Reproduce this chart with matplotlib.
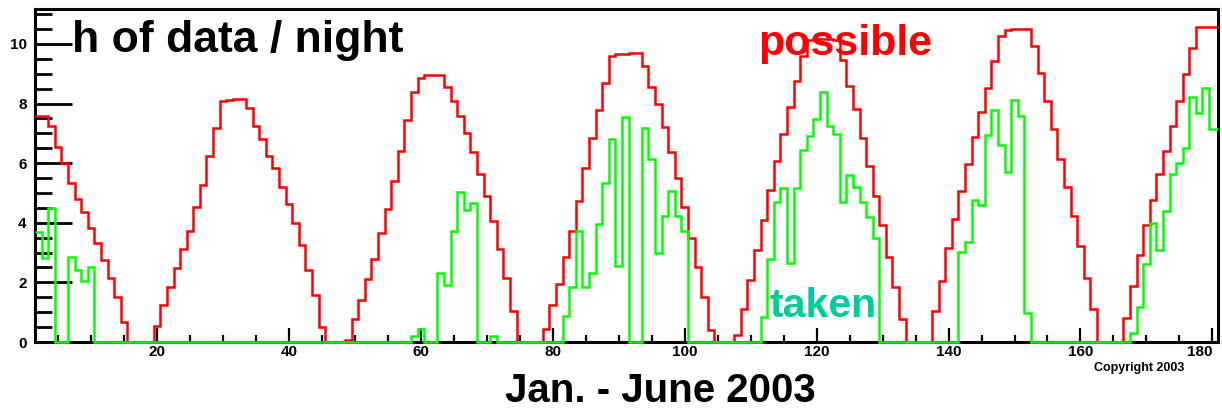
import numpy as np
import matplotlib.pyplot as plt
from matplotlib.ticker import MultipleLocator

# one bin per night, day of year 2003
days = np.arange(2, 182)

# hours of dark time available per night
possible = [
    7.58, 7.58, 7.25, 6.53, 6.02, 5.35, 4.81, 4.37, 3.82, 3.31,    # 2-11
    2.75, 2.14, 1.52, 0.68, 0.00, 0.00, 0.00, 0.00, 0.54, 1.24,    # 12-21
    1.86, 2.49, 3.12, 3.74, 4.54, 5.27, 6.24, 7.19, 8.09, 8.12,    # 22-31
    8.14, 8.14, 7.86, 7.23, 6.80, 6.24, 5.83, 5.21, 4.63, 4.00,    # 32-41
    3.26, 2.42, 1.58, 0.51, 0.00, 0.00, 0.00, 0.08, 0.78, 1.41,    # 42-51
    2.13, 2.77, 3.65, 4.45, 5.41, 6.42, 7.45, 8.40, 8.87, 8.94,    # 52-61
    8.94, 8.94, 8.57, 8.10, 7.58, 7.00, 6.39, 5.64, 4.90, 4.07,    # 62-71
    3.11, 2.14, 1.04, 0.00, 0.00, 0.00, 0.00, 0.45, 1.23, 1.95,    # 72-81
    2.84, 3.74, 4.74, 5.83, 6.83, 7.79, 8.68, 9.58, 9.66, 9.66,    # 82-91
    9.68, 9.68, 9.26, 8.57, 7.99, 7.20, 6.39, 5.49, 4.54, 3.50,    # 92-101
    2.51, 1.52, 0.40, 0.00, 0.00, 0.00, 0.25, 1.12, 2.08, 3.10,    # 102-111
    4.09, 5.09, 6.06, 6.97, 7.87, 8.76, 9.58, 10.13, 10.17, 10.17, # 112-121
    10.17, 10.13, 9.46, 8.59, 7.80, 6.83, 5.89, 4.90, 3.93, 2.84,  # 122-131
    1.86, 0.78, 0.00, 0.00, 0.00, 0.00, 1.05, 2.05, 3.14, 4.13,    # 132-141
    5.08, 5.97, 6.89, 7.70, 8.51, 9.41, 10.28, 10.45, 10.49, 10.49,  # 142-151
    10.49, 9.93, 9.02, 8.10, 7.16, 6.13, 5.20, 4.21, 3.22, 2.16,   # 152-161
    1.10, 0.00, 0.00, 0.00, 0.00, 0.79, 1.88, 2.92, 3.93, 4.77,    # 162-171
    5.64, 6.42, 7.25, 8.10, 8.99, 9.85, 10.55, 10.55, 10.55, 10.55,  # 172-181
]

# hours of data actually taken per night
taken = [
    3.70, 2.81, 4.49, 0.00, 0.00, 2.86, 2.40, 2.06, 2.51, 0.00,    # 2-11
    0.00, 0.00, 0.00, 0.00, 0.00, 0.00, 0.00, 0.00, 0.00, 0.00,    # 12-21
    0.00, 0.00, 0.00, 0.00, 0.00, 0.00, 0.00, 0.00, 0.00, 0.00,    # 22-31
    0.00, 0.00, 0.00, 0.00, 0.00, 0.00, 0.00, 0.00, 0.00, 0.00,    # 32-41
    0.00, 0.00, 0.00, 0.00, 0.00, 0.00, 0.00, 0.00, 0.00, 0.00,    # 42-51
    0.00, 0.00, 0.00, 0.00, 0.00, 0.00, 0.00, 0.20, 0.45, 0.00,    # 52-61
    0.00, 2.33, 1.91, 3.74, 5.02, 4.43, 4.65, 0.00, 0.00, 0.20,    # 62-71
    0.00, 0.00, 0.00, 0.00, 0.00, 0.00, 0.00, 0.00, 0.00, 0.00,    # 72-81
    0.87, 1.86, 3.74, 1.86, 2.33, 3.96, 5.35, 6.80, 2.55, 7.54,    # 82-91
    0.00, 0.00, 7.17, 6.13, 3.00, 4.21, 5.08, 4.21, 3.74, 0.00,    # 92-101
    0.00, 0.00, 0.00, 0.00, 0.00, 0.00, 0.00, 0.00, 0.00, 0.00,    # 102-111
    0.85, 2.79, 4.71, 5.16, 2.64, 5.16, 6.44, 6.90, 7.47, 8.40,    # 112-121
    7.25, 6.98, 4.71, 5.60, 5.21, 4.71, 4.18, 3.50, 0.00, 0.00,    # 122-131
    0.00, 0.00, 0.00, 0.00, 0.00, 0.00, 0.00, 0.00, 0.00, 0.00,    # 132-141
    3.03, 3.37, 4.77, 4.60, 6.95, 7.79, 6.60, 5.69, 8.12, 7.58,    # 142-151
    0.98, 0.00, 0.00, 0.00, 0.00, 0.00, 0.00, 0.00, 0.00, 0.00,    # 152-161
    0.00, 0.00, 0.00, 0.00, 0.00, 0.00, 0.31, 1.16, 2.62, 4.00,    # 162-171
    3.07, 4.41, 5.64, 6.00, 6.50, 8.23, 7.67, 8.51, 7.14, 7.14,    # 172-181
]

x_ticks = [20, 40, 60, 80, 100, 120, 140, 160, 180]

xmin, xmax = 1.5, 180.85
ymax = 11.17

edges = np.append(days - 0.5, days[-1] + 0.5)
edges = np.clip(edges, xmin, xmax)

W, H = 1222, 409
fig = plt.figure(figsize=(W / 100, H / 100), dpi=100)
ax = fig.add_axes([35 / W, 67 / H, 1183 / W, 333 / H])

# draw unclipped so the zero level sits on top of the frame
ax.stairs(possible, edges, baseline=None, color='#ff0000', linewidth=1.8,
          clip_on=False, zorder=3)
ax.stairs(taken, edges, baseline=None, color='#00ff00', linewidth=1.8,
          clip_on=False, zorder=4)

ax.set_xlim(xmin, xmax)
ax.set_ylim(0, ymax)

for s in ax.spines.values():
    s.set_linewidth(2.2)
    s.set_zorder(2)

ax.set_xticks(x_ticks)
ax.set_xticklabels([str(t) for t in x_ticks])
ax.xaxis.set_minor_locator(MultipleLocator(5))
ax.yaxis.set_major_locator(MultipleLocator(2))
ax.yaxis.set_minor_locator(MultipleLocator(0.5))
ax.tick_params(axis='x', which='major', direction='in', length=10, width=1.6, pad=2)
ax.tick_params(axis='x', which='minor', direction='in', length=5, width=1.6)
ax.tick_params(axis='y', which='major', direction='in', length=26.5, width=2, pad=6)
ax.tick_params(axis='y', which='minor', direction='in', length=12, width=2)
for lab in ax.get_xticklabels() + ax.get_yticklabels():
    lab.set_fontsize(11)
    lab.set_fontweight('bold')
    lab.set_family('Liberation Sans')
# last label sits at the right frame, keep it inside the figure
ax.get_xticklabels()[-1].set_ha('right')

font = dict(family='Liberation Sans', fontweight='bold', va='baseline')
fig.text(72 / W, 1 - 52 / H, 'h of data / night', fontsize=32, color='black', ha='left', **font)
fig.text(758 / W, 1 - 55 / H, 'possible', fontsize=31, color='#ff0000', ha='left', **font)
fig.text(770 / W, 1 - 317 / H, 'taken', fontsize=29.5, color='#00cc99', ha='left', **font)
fig.text(660 / W, 1 - 402 / H, 'Jan. - June 2003', fontsize=29, color='black', ha='center', **font)
fig.text(1094 / W, 1 - 371 / H, 'Copyright 2003', fontsize=9, color='black', ha='left', **font)

fig.savefig('out.png', dpi=100)
